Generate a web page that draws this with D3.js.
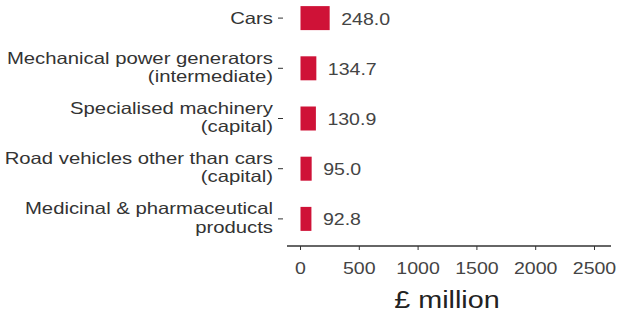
<!DOCTYPE html>
<html>
<head>
<meta charset="utf-8">
<script src="https://cdn.jsdelivr.net/npm/d3@7"></script>
<style>
body{margin:0;background:#fff}
text{font-family:"Liberation Sans",Arial,sans-serif}
</style>
</head>
<body>
<div id="chart"></div>
<script>
const width = 619
const height = 313

// data
const categories = [
["Cars"],
["Mechanical power generators","(intermediate)"],
["Specialised machinery","(capital)"],
["Road vehicles other than cars","(capital)"],
["Medicinal & pharmaceutical","products"]
]
const values = [248.0, 134.7, 130.9, 95.0, 92.8]
const xTicks = [0, 500, 1000, 1500, 2000, 2500]

// text in the picture is a bit wider than it is tall
const stretch = (x,y,s)=>`translate(${x},${y}) scale(${s},1)`

const svg = d3.select("#chart")
.append("svg")
.attr("width",width)
.attr("height",height)

const x = d3.scaleLinear()
.domain([0,2500])
.range([300.5,594.5])

const y = d3.scaleBand()
.domain(d3.range(values.length))
.range([-9.5,246.5])
.paddingInner(0.5)
.paddingOuter(0.3)

// x axis
const axisY = 246
svg.append("line")
.attr("x1",287).attr("x2",611)
.attr("y1",axisY).attr("y2",axisY)
.attr("stroke","#333").attr("stroke-width",1.5)

const xt = svg.selectAll(".xt")
.data(xTicks)
.enter()
.append("g")
.attr("transform",d=>`translate(${x(d)},${axisY})`)

xt.append("line")
.attr("y1",0).attr("y2",4)
.attr("stroke","#333")

xt.append("text")
.attr("transform",stretch(0,28,1.15))
.attr("text-anchor","middle")
.attr("font-size",17)
.attr("fill","#444")
.text(d=>d)

svg.append("text")
.attr("transform",stretch(447,308,1.25))
.attr("text-anchor","middle")
.attr("font-size",23)
.attr("fill","#222")
.text("£ million")

// bars
const rows = svg.selectAll(".row")
.data(values)
.enter()
.append("g")
.attr("transform",(d,i)=>`translate(0,${y(i)+y.bandwidth()/2})`)

rows.append("rect")
.attr("x",x(0))
.attr("y",-12)
.attr("width",d=>x(d)-x(0))
.attr("height",24)
.attr("fill","#cf1237")

rows.append("text")
.attr("transform",d=>stretch(x(d)+11.5,6.5,1.15))
.attr("font-size",17)
.attr("fill","#444")
.text(d=>d.toFixed(1))

rows.append("line")
.attr("x1",278).attr("x2",283)
.attr("stroke","#333")

rows.each(function(d,i){
const lines = categories[i]
const g = d3.select(this)
const base = lines.length==1 ? 6 : 4.5
lines.forEach((t,j)=>{
g.append("text")
.attr("transform",stretch(273,base+(j-(lines.length-1)/2)*18.5,1.23))
.attr("text-anchor","end")
.attr("font-size",16.5)
.attr("fill","#333")
.text(t)
})
})
</script>
</body>
</html>
